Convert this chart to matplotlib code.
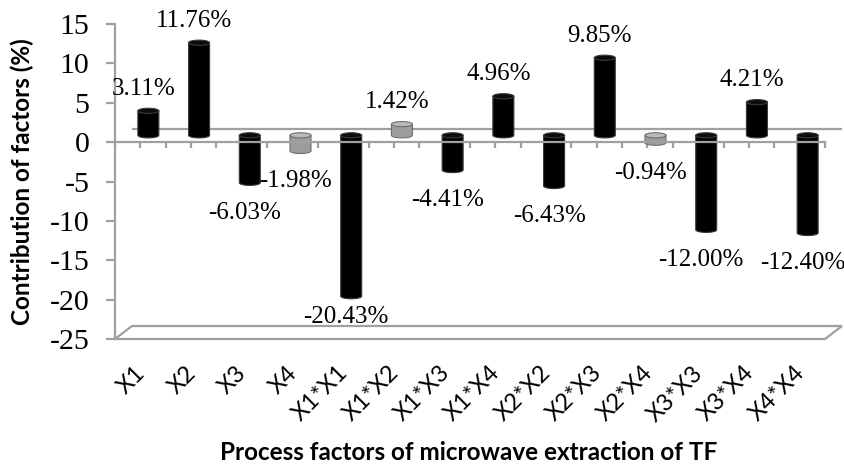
import matplotlib
matplotlib.use("Agg")
import matplotlib.pyplot as plt
from matplotlib.patches import Ellipse, Polygon
from matplotlib.ticker import FixedLocator
from matplotlib.transforms import ScaledTranslation
import numpy as np

# 因子と寄与率
factors = ["X1", "X2", "X3", "X4", "X1*X1", "X1*X2", "X1*X3", "X1*X4",
           "X2*X2", "X2*X3", "X2*X4", "X3*X3", "X3*X4", "X4*X4"]
contribution = [3.11, 11.76, -6.03, -1.98, -20.43, 1.42, -4.41, 4.96,
                -6.43, 9.85, -0.94, -12.00, 4.21, -12.40]
grey_terms = ["X4", "X1*X2", "X2*X4"]
y_ticks = [-25, -20, -15, -10, -5, 0, 5, 10, 15]

W, H = 845, 468
AX_L, AX_R, AX_T, AX_B = 115, 825, 24, 339
GRID = "#a0a0a0"

fig = plt.figure(figsize=(W / 100, H / 100), dpi=100)
ax = fig.add_axes([AX_L / W, (H - AX_B) / H, (AX_R - AX_L) / W, (AX_B - AX_T) / H])
ax.set_xlim(-0.5, len(factors) - 0.5)
ax.set_ylim(y_ticks[0], y_ticks[-1])

px_x = (AX_R - AX_L) / len(factors)          # px per category
px_y = (AX_B - AX_T) / (y_ticks[-1] - y_ticks[0])  # px per unit

# 3D奥行きのずれ (中間 / 奥)
mid_dx, mid_dy = 8 / px_x, 6.8 / px_y
back_dx, back_dy = 17 / px_x, 13 / px_y

# 床
x0, x1 = ax.get_xlim()
y0 = y_ticks[0]
floor = Polygon([(x0, y0), (x0 + back_dx, y0 + back_dy), (x1 + back_dx, y0 + back_dy), (x1, y0)],
                closed=True, facecolor="white", edgecolor=GRID, lw=1.6, clip_on=False, zorder=1)
ax.add_patch(floor)

# 奥の0ライン
ax.plot([x0 + back_dx, x1 + back_dx], [back_dy, back_dy], color=GRID, lw=1.6,
        clip_on=False, zorder=1, solid_capstyle="butt")


def cylinder(xc, lo, hi, face, top_face, edge):
    a = 0.207
    b = 0.33
    t = np.linspace(np.pi, 2 * np.pi, 40)
    pts = [(xc - a, hi)] + list(zip(xc + a * np.cos(t), lo + b * np.sin(t))) + [(xc + a, hi)]
    ax.add_patch(Polygon(pts, closed=True, facecolor=face, edgecolor=edge, lw=0.8, zorder=2))
    ax.add_patch(Ellipse((xc, hi), 2 * a, 2 * b, facecolor=top_face, edgecolor=edge, lw=0.8, zorder=2.1))


for i, (name, v) in enumerate(zip(factors, contribution)):
    xc = i + mid_dx
    lo, hi = min(v, 0) + mid_dy, max(v, 0) + mid_dy
    if name in grey_terms:
        cylinder(xc, lo, hi, "#9c9c9c", "#bababa", "#6f6f6f")
    else:
        cylinder(xc, lo, hi, "#000000", "#0c0c0c", "#3a3a3a")

    if v >= 0:
        off = 22
        y_anchor = hi
    else:
        off = -21 if v < -18 else -30
        y_anchor = lo
    ax.annotate(f"{v:.2f}%", xy=(xc, y_anchor), xytext=(-5, off), textcoords="offset pixels",
                ha="center", va="center", fontsize=18, family="Liberation Serif",
                color="black", zorder=5, annotation_clip=False)

# 軸の体裁
for s in ["top", "right"]:
    ax.spines[s].set_visible(False)
ax.spines["left"].set_color(GRID)
ax.spines["left"].set_linewidth(1.6)
ax.spines["bottom"].set_position(("data", 0))
ax.spines["bottom"].set_color(GRID)
ax.spines["bottom"].set_linewidth(1.6)
ax.spines["bottom"].set_zorder(3)

ax.set_yticks(y_ticks)
ax.set_yticklabels([str(t) for t in y_ticks], family="Liberation Serif", fontsize=21.5)
ax.tick_params(axis="y", direction="out", length=6.5, width=1.6, color=GRID, pad=12)

ax.set_xticks(range(len(factors)))
ax.xaxis.set_minor_locator(FixedLocator(np.arange(-0.5, len(factors), 1.0)))
ax.tick_params(axis="x", which="both", direction="out", length=4.3, width=1.6, color=GRID)
ax.tick_params(axis="x", which="major", pad=(362 - 142 - 6) * 0.72)
ax.set_xticklabels(factors, rotation=45, ha="right", va="top", rotation_mode="anchor",
                   family="Lato", fontsize=17)
shift = ScaledTranslation(-6 / 100, 0, fig.dpi_scale_trans)
for lab in ax.get_xticklabels():
    lab.set_transform(lab.get_transform() + shift)

ax.set_ylabel("Contribution of factors (%)", family="Lato", fontweight="bold", fontsize=17.5)
ax.yaxis.set_label_coords((34 - AX_L) / (AX_R - AX_L), 0.5)
fig.text(469 / W, 1 - 452 / H, "Process factors of microwave extraction of TF", family="Lato",
         fontweight="bold", fontsize=17.5, ha="center", va="center")

fig.savefig("out.png", dpi=100)
